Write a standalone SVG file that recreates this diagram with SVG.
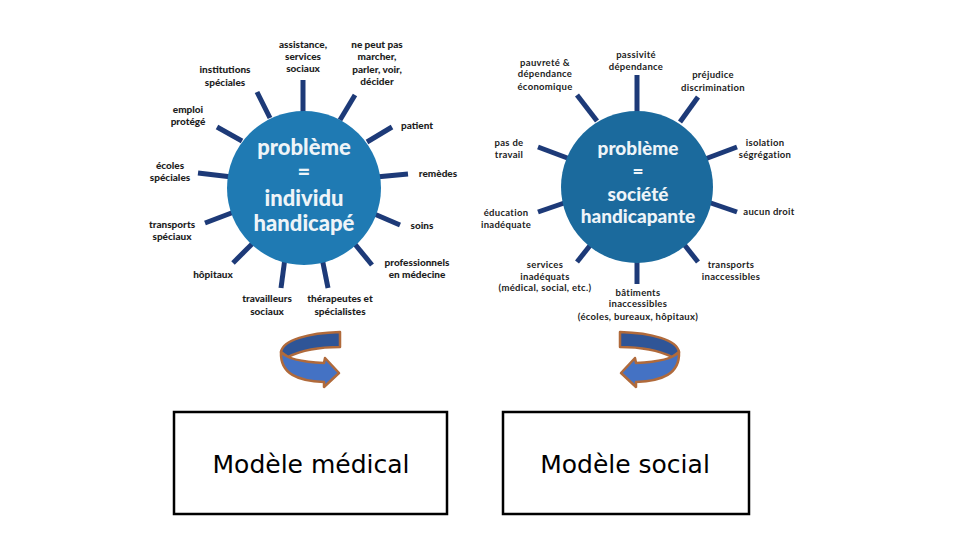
<svg xmlns="http://www.w3.org/2000/svg" width="960" height="540" viewBox="0 0 960 540">
<style>
.lbl{font-family:Lato,"Open Sans","DejaVu Sans",sans-serif;font-weight:900;font-size:10px;fill:#1e1e1e;text-anchor:middle}
.lblr{font-family:Lato,"Open Sans","DejaVu Sans",sans-serif;font-weight:700;font-size:9.5px;letter-spacing:0.3px;fill:#222;text-anchor:middle}
.ctr{font-family:Lato,"Open Sans","DejaVu Sans",sans-serif;font-weight:900;fill:#eef4f8;text-anchor:middle}
.spoke{stroke:#1d3a78;stroke-width:5;stroke-linecap:butt}
.box{fill:#fff;stroke:#000;stroke-width:2.5}
.model{font-family:"DejaVu Sans",Verdana,sans-serif;font-size:25px;fill:#000;text-anchor:middle}
.dark{fill:#2f5597;stroke:#b06a3b;stroke-width:2.5;stroke-linejoin:round}
.light{fill:#4472c4;stroke:#b06a3b;stroke-width:2.5;stroke-linejoin:round}
</style>
<defs>
<g id="curl">
<path class="dark" d="M60,2 C28,3 3,10 1,22 L8,27 C20,21 38,17 60,17 Z"/>
<path class="light" d="M1,22 C6,28 22,32 44,33 L45,28 L59,43 L44,57 L44,52 C18,51 0,44 1,22 Z"/>
</g>
</defs>
<rect width="960" height="540" fill="#fff"/>

<g id="connectors">
<g id="spokes-medical">
<line class="spoke" x1="303" y1="80" x2="303" y2="118"/>
<line class="spoke" x1="257" y1="92" x2="270" y2="118"/>
<line class="spoke" x1="355" y1="95" x2="340" y2="120"/>
<line class="spoke" x1="217" y1="127" x2="242" y2="141"/>
<line class="spoke" x1="392" y1="127" x2="367" y2="142"/>
<line class="spoke" x1="198" y1="173" x2="232" y2="177"/>
<line class="spoke" x1="408" y1="174" x2="376" y2="177"/>
<line class="spoke" x1="205" y1="223" x2="234" y2="212"/>
<line class="spoke" x1="400" y1="225" x2="372" y2="213"/>
<line class="spoke" x1="233" y1="263" x2="254" y2="242"/>
<line class="spoke" x1="372" y1="265" x2="354" y2="243"/>
<line class="spoke" x1="281" y1="288" x2="285" y2="258"/>
<line class="spoke" x1="328" y1="288" x2="322" y2="258"/>
</g>
<g id="spokes-social">
<line class="spoke" x1="637" y1="75" x2="637" y2="118"/>
<line class="spoke" x1="577" y1="95" x2="597" y2="121"/>
<line class="spoke" x1="698" y1="97" x2="680" y2="122"/>
<line class="spoke" x1="538" y1="147" x2="570" y2="159"/>
<line class="spoke" x1="737" y1="147" x2="705" y2="159"/>
<line class="spoke" x1="538" y1="212" x2="570" y2="201"/>
<line class="spoke" x1="737" y1="212" x2="705" y2="201"/>
<line class="spoke" x1="577" y1="262" x2="596" y2="238"/>
<line class="spoke" x1="637" y1="284" x2="637" y2="252"/>
<line class="spoke" x1="698" y1="262" x2="679" y2="238"/>
</g>
<g id="curl-left"><use href="#curl" transform="translate(280,330)"/></g>
<g id="curl-right"><use href="#curl" transform="translate(680,330) scale(-1,1)"/></g>
</g>

<g id="node-medical-center">
<circle cx="304" cy="188" r="77" fill="#1f7ab3"/>
<text class="ctr" x="304" y="155" font-size="22">problème</text>
<text class="ctr" x="304" y="180" font-size="22">=</text>
<text class="ctr" x="304" y="206" font-size="22">individu</text>
<text class="ctr" x="304" y="231" font-size="22">handicapé</text>
</g>

<g id="node-social-center">
<circle cx="637" cy="187" r="76" fill="#1b6a9d"/>
<text class="ctr" x="638" y="155" font-size="19">problème</text>
<text class="ctr" x="638" y="178" font-size="19">=</text>
<text class="ctr" x="638" y="201" font-size="19">société</text>
<text class="ctr" x="638" y="223" font-size="19">handicapante</text>
</g>

<g id="labels-medical">
<g id="m-assistance"><text class="lbl" x="303" y="48">assistance,</text><text class="lbl" x="303" y="60">services</text><text class="lbl" x="303" y="72">sociaux</text></g>
<g id="m-nepeut"><text class="lbl" x="377" y="48">ne peut pas</text><text class="lbl" x="377" y="60">marcher,</text><text class="lbl" x="377" y="73">parler, voir,</text><text class="lbl" x="377" y="85">décider</text></g>
<g id="m-institutions"><text class="lbl" x="225" y="73">institutions</text><text class="lbl" x="225" y="86">spéciales</text></g>
<g id="m-emploi"><text class="lbl" x="188" y="113">emploi</text><text class="lbl" x="188" y="125">protégé</text></g>
<g id="m-patient"><text class="lbl" x="417" y="129">patient</text></g>
<g id="m-ecoles"><text class="lbl" x="170" y="169">écoles</text><text class="lbl" x="170" y="181">spéciales</text></g>
<g id="m-remedes"><text class="lbl" x="438" y="177">remèdes</text></g>
<g id="m-transports"><text class="lbl" x="172" y="228">transports</text><text class="lbl" x="172" y="240">spéciaux</text></g>
<g id="m-soins"><text class="lbl" x="422" y="229">soins</text></g>
<g id="m-hopitaux"><text class="lbl" x="213" y="278">hôpitaux</text></g>
<g id="m-professionnels"><text class="lbl" x="417" y="266">professionnels</text><text class="lbl" x="417" y="278">en médecine</text></g>
<g id="m-travailleurs"><text class="lbl" x="267" y="302">travailleurs</text><text class="lbl" x="267" y="315">sociaux</text></g>
<g id="m-therapeutes"><text class="lbl" x="340" y="302">thérapeutes et</text><text class="lbl" x="340" y="315">spécialistes</text></g>
</g>

<g id="labels-social">
<g id="s-passivite"><text class="lblr" x="636" y="58">passivité</text><text class="lblr" x="636" y="70">dépendance</text></g>
<g id="s-pauvrete"><text class="lblr" x="545" y="66">pauvreté &amp;</text><text class="lblr" x="545" y="77">dépendance</text><text class="lblr" x="545" y="90">économique</text></g>
<g id="s-prejudice"><text class="lblr" x="713" y="78">préjudice</text><text class="lblr" x="713" y="91">discrimination</text></g>
<g id="s-pasdetravail"><text class="lblr" x="509" y="146">pas de</text><text class="lblr" x="509" y="158">travail</text></g>
<g id="s-isolation"><text class="lblr" x="765" y="146">isolation</text><text class="lblr" x="765" y="158">ségrégation</text></g>
<g id="s-education"><text class="lblr" x="506" y="216">éducation</text><text class="lblr" x="506" y="228">inadéquate</text></g>
<g id="s-aucundroit"><text class="lblr" x="769" y="215">aucun droit</text></g>
<g id="s-services"><text class="lblr" x="545" y="268">services</text><text class="lblr" x="545" y="280">inadéquats</text><text class="lblr" x="545" y="291">(médical, social, etc.)</text></g>
<g id="s-batiments"><text class="lblr" x="638" y="296">bâtiments</text><text class="lblr" x="638" y="307">inaccessibles</text><text class="lblr" x="638" y="320">(écoles, bureaux, hôpitaux)</text></g>
<g id="s-transports"><text class="lblr" x="731" y="268">transports</text><text class="lblr" x="731" y="280">inaccessibles</text></g>
</g>

<g id="node-modele-medical">
<rect class="box" x="174" y="412" width="273" height="102"/>
<text class="model" x="311" y="473">Modèle médical</text>
</g>
<g id="node-modele-social">
<rect class="box" x="503" y="412" width="246" height="102"/>
<text class="model" x="625" y="473">Modèle social</text>
</g>
</svg>
